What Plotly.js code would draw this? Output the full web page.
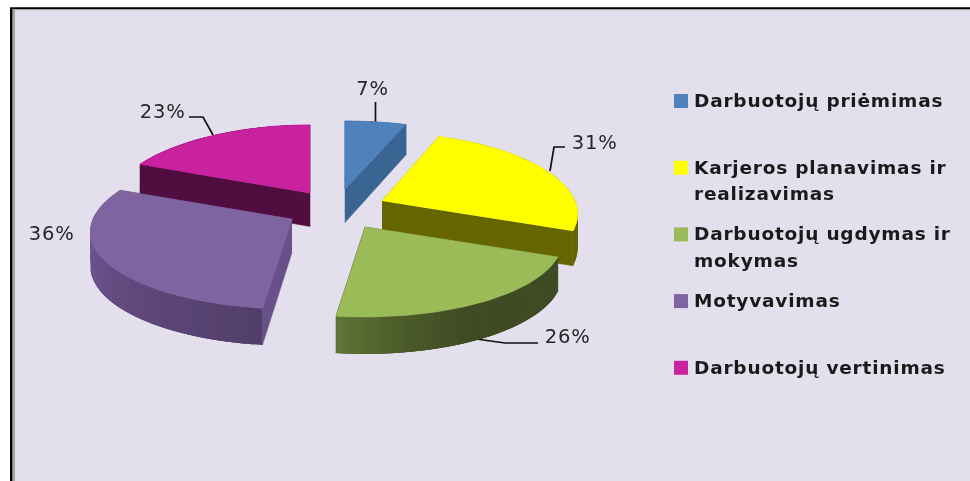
<!DOCTYPE html>
<html>
<head>
<meta charset="utf-8">
<script src="https://cdn.plot.ly/plotly-3.0.1.min.js"></script>
<style>
html,body{margin:0;padding:0;background:#fff}
#chart{width:970px;height:481px;filter:blur(0.4px)}
.annotation text{letter-spacing:0.8px}
</style>
</head>
<body>
<div id="chart"></div>
<script>
// ---- data ----
const categories = ["Darbuotojų priėmimas", "Karjeros planavimas ir\nrealizavimas", "Darbuotojų ugdymas ir\nmokymas", "Motyvavimas", "Darbuotojų vertinimas"];
const values = [7, 31, 26, 36, 23];
const topColors = ["#4F81BD", "#FFFF00", "#9BBB59", "#8064A2", "#C8229E"];
const faceColors = ["#3A6592", "#666600", "#3F4B23", "#68508A", "#500D40"];

// ---- exploded-slice geometry ----
const centers = [[345, 189], [382, 201], [365, 227], [292, 219], [310, 193]];
const xScale = [1.05, 0.98, 0.99, 1.01, 1];
const wallStops = [
  [[0, "#3A6592"], [1, "#3A6592"]],
  [[0, "#666600"], [1, "#666600"]],
  [[0, "#3F4B23"], [0.55, "#3F4B23"], [0.8, "#4C5C2B"], [1, "#617536"]],
  [[0, "#523E6A"], [0.3, "#5C4777"], [0.65, "#6C5490"], [1, "#705792"]],
  [[0, "#500D40"], [1, "#500D40"]]
];
const labelPos = [[372, 88], [594, 142], [567, 336], [51, 233], [162, 111]];
const leaders = [
  [[375.5, 102], [375.5, 124]],
  [[565, 147], [554, 147], [550, 171]],
  [[476, 339], [505, 343], [538, 343]],
  [],
  [[189, 117], [203, 117], [213, 135]]
];

const R = 197, RK = 33, RY = 79, RYK = 10.9;
function project(i, theta, down) {
  const v = -Math.cos(theta), s = Math.sin(theta);
  const d = down ? 33.5 + 3.5 * v : 0;
  return [
    centers[i][0] + s * (R + RK * v) * xScale[i],
    centers[i][1] + v * (RY + RYK * v) + d
  ];
}
function hexMix(a, b, t) {
  const p = h => [1, 3, 5].map(k => parseInt(h.substr(k, 2), 16));
  const A = p(a), B = p(b);
  return "rgb(" + A.map((c, k) => Math.round(c + (B[k] - c) * t)).join(",") + ")";
}
function stopColor(stops, t) {
  for (let k = 1; k < stops.length; k++) {
    if (t <= stops[k][0]) {
      return hexMix(stops[k - 1][1], stops[k][1], (t - stops[k - 1][0]) / (stops[k][0] - stops[k - 1][0]));
    }
  }
  return stops[stops.length - 1][1];
}
function poly(pts, color, lineWidth) {
  return {
    type: "scatter", mode: "lines", x: pts.map(p => p[0]), y: pts.map(p => p[1]),
    fill: "toself", fillcolor: color, line: { color: color, width: lineWidth || 0 },
    hoverinfo: "skip", showlegend: false
  };
}

const total = values.reduce((a, b) => a + b, 0);
let cum = 0;
const slices = values.map((v, i) => {
  const a0 = cum / total * 2 * Math.PI;
  cum += v;
  return { i, a0, a1: cum / total * 2 * Math.PI };
});

const traces = [];
// leaders sit behind the pie
leaders.forEach(l => {
  if (l.length) traces.push({
    type: "scatter", mode: "lines", x: l.map(p => p[0]), y: l.map(p => p[1]),
    line: { color: "#111111", width: 1.7 }, hoverinfo: "skip", showlegend: false
  });
});

// back-to-front painter's order
slices.slice().sort((a, b) => centers[a.i][1] - centers[b.i][1]).forEach(sl => {
  const i = sl.i, bands = 48;
  const da = (sl.a1 - sl.a0) / bands;
  const c = centers[i], cd = [c[0], c[1] + 33.5];
  // cut faces first
  [sl.a0, sl.a1].forEach(t => {
    traces.push(poly([c, project(i, t, false), project(i, t, true), cd], faceColors[i], 0.5));
  });
  // outer wall: short overlapping bands, each overpainted by the next, so no seams show
  for (let b = 0; b < bands; b++) {
    const t0 = sl.a0 + da * b;
    const t1 = Math.min(sl.a1, t0 + da * 3);
    const upper = [], lower = [];
    for (let k = 0; k <= 3; k++) {
      const t = t0 + (t1 - t0) * k / 3;
      upper.push(project(i, t, false));
      lower.unshift(project(i, t, true));
    }
    traces.push(poly(upper.concat(lower), stopColor(wallStops[i], (b + 0.5) / bands)));
  }
  // top surface
  const top = [c];
  const n = 60;
  for (let k = 0; k <= n; k++) top.push(project(i, sl.a0 + (sl.a1 - sl.a0) * k / n, false));
  traces.push(poly(top, topColors[i], 0.8));
});

// legend swatches
const legendX = 681, legendY0 = 101, legendStep = 66.7;
traces.push({
  type: "scatter", mode: "markers",
  x: categories.map(() => legendX),
  y: categories.map((_, i) => legendY0 + i * legendStep),
  marker: { symbol: "square", size: 14, color: topColors, line: { width: 0 } },
  hoverinfo: "skip", showlegend: false
});

const annotations = [];
values.forEach((v, i) => annotations.push({
  x: labelPos[i][0], y: labelPos[i][1], xref: "x", yref: "y", text: v + "%", showarrow: false,
  font: { family: "DejaVu Sans", size: 19.5, color: "#262626" }, xanchor: "center", yanchor: "middle"
}));
categories.forEach((c, i) => c.split("\n").forEach((line, k) => annotations.push({
  x: 694, y: legendY0 + i * legendStep + k * 26.5 - 0.5, xref: "x", yref: "y", text: line, showarrow: false, align: "left",
  font: { family: "DejaVu Sans", size: 18.5, weight: 700, color: "#1a1a1a" }, xanchor: "left", yanchor: "middle", borderpad: 0, borderwidth: 0
})));

const layout = {
  width: 970, height: 481, margin: { l: 0, r: 0, t: 0, b: 0, pad: 0 },
  paper_bgcolor: "#ffffff", plot_bgcolor: "#ffffff", showlegend: false,
  xaxis: { range: [0, 970], visible: false, fixedrange: true, domain: [0, 1] },
  yaxis: { range: [481, 0], visible: false, fixedrange: true, domain: [0, 1] },
  shapes: [
    { type: "rect", layer: "below", x0: 10, x1: 975, y0: 7.3, y1: 490, fillcolor: "#000000", line: { width: 0 } },
    { type: "rect", layer: "below", x0: 12.3, x1: 975, y0: 9, y1: 490, fillcolor: "#A6A6A6", line: { width: 0 } },
    { type: "rect", layer: "below", x0: 15, x1: 975, y0: 10.3, y1: 490, fillcolor: "#E4DFEC", line: { width: 0 } }
  ],
  annotations: annotations
};
Plotly.newPlot("chart", traces, layout, { staticPlot: true, displayModeBar: false });
</script>
</body>
</html>
